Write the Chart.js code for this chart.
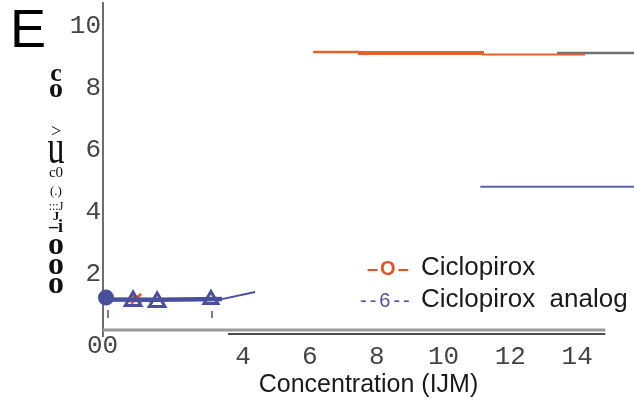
<!DOCTYPE html>
<html>
<head>
<meta charset="utf-8">
<title>Ciclopirox</title>
<script src="https://cdn.jsdelivr.net/npm/chart.js@4.4.0/dist/chart.umd.min.js"></script>
<style>
  body { margin: 0; background: #fff; }
  #wrap { position: relative; width: 634px; height: 406px; overflow: hidden; }
  #chart { position: absolute; left: 0; top: 0; }
  .t { position: absolute; white-space: pre; line-height: 1; }
  .sans { font-family: "Liberation Sans", Arial, sans-serif; color: #1a1a1a; }
  .serif { font-family: "Liberation Serif", serif; color: #111; }
  .mono { font-family: "Liberation Mono", monospace; color: #444; }
  .ylab { left: 36px; width: 40px; text-align: center; }
</style>
</head>
<body>
<div id="wrap">
  <canvas id="chart" width="634" height="406"></canvas>

  <div class="t sans" style="left:10px;top:1px;font-size:54px;color:#000;">E</div>

  <!-- y axis label, as scanned -->
  <div class="t serif ylab" style="top:60px;font-size:26px;font-weight:bold;">c</div>
  <div class="t serif ylab" style="top:73.5px;font-size:28px;font-weight:bold;">o</div>
  <div class="t serif ylab" style="top:122px;font-size:18px;">&gt;</div>
  <div class="t serif ylab" style="top:134.5px;font-size:34px;transform:scaleY(1.45);transform-origin:50% 28.5px;">u</div>
  <div class="t serif ylab" style="top:165px;font-size:15px;">c0</div>
  <div class="t serif ylab" style="top:184px;font-size:13px;">(.)</div>
  <div class="t serif ylab" style="top:200px;font-size:12px;">:::J</div>
  <div class="t serif ylab" style="top:209px;font-size:13px;font-weight:bold;">J</div>
  <div class="t serif ylab" style="top:217px;font-size:18px;font-weight:bold;">–i</div>
  <div class="t serif ylab" style="top:227px;font-size:32px;font-weight:bold;">o</div>
  <div class="t serif ylab" style="top:246.5px;font-size:32px;font-weight:bold;">o</div>
  <div class="t serif ylab" style="top:265.5px;font-size:32px;font-weight:bold;">o</div>

  <div class="t mono" style="left:87px;top:333px;font-size:26px;">00</div>

  <!-- legend -->
  <div class="t sans" style="left:367px;top:258px;font-size:20px;font-weight:bold;letter-spacing:2px;color:#e5532a;">–O–</div>
  <div class="t sans" style="left:421px;top:253px;font-size:26px;">Ciclopirox</div>
  <div class="t sans" style="left:360px;top:290px;font-size:20px;letter-spacing:3px;color:#4b52a0;">--6--</div>
  <div class="t sans" style="left:421px;top:285px;font-size:26px;">Ciclopirox  analog</div>
</div>

<script>
const yTicks = [2, 4, 6, 8, 10];
const xTicks = [4, 6, 8, 10, 12, 14];

// Ciclopirox (orange), top plateau and the low point near 0
const cicloX = [6.10, 7.44, 11.15, 14.24];
const cicloY = [9.16, 9.13, 9.08, 9.08];
const cicloLowX = [0.80];
const cicloLowY = [1.20];

// Ciclopirox analog (blue)
const analogX = [-0.10, 0.71, 1.43, 3.04];
const analogY = [1.24, 1.13, 1.10, 1.18];
const analogLineX = [-0.28, 1.43, 3.37, 4.36];
const analogLineY = [1.18, 1.17, 1.19, 1.42];
const analogErrX = [-0.04, 3.07];
const analogErrLo = [0.58, 0.58];
const analogErrHi = [0.84, 0.81];

// stray strokes in the scan
const greyTopX = [13.40, 15.70];
const greyTopY = [9.13, 9.13];
const blueMidX = [11.10, 15.70];
const blueMidY = [4.81, 4.81];

// axis rules
const axisGreyX = [-0.19, 14.84];
const axisGreyY = [0.19, 0.19];
const axisBlackX = [3.55, 14.84];
const axisBlackY = [0.065, 0.065];

const orange = '#e5612f';
const blue = '#4a4f9c';

function pts(xs, ys) {
    return xs.map((x, i) => ({ x: x, y: ys[i] }));
}

const errData = [];
analogErrX.forEach((x, i) => {
    errData.push({ x: x, y: analogErrLo[i] }, { x: x, y: analogErrHi[i] }, { x: x, y: null });
});

new Chart(document.getElementById('chart'), {
    type: 'line',
    data: {
        datasets: [
            {
                data: pts(analogX, analogY),
                showLine: false,
                pointStyle: ['circle', 'triangle', 'triangle', 'triangle'],
                pointRadius: [6.5, 9, 9, 8],
                pointBorderWidth: 3,
                pointBorderColor: blue,
                pointBackgroundColor: [blue, 'rgba(0,0,0,0)', 'rgba(0,0,0,0)', 'rgba(0,0,0,0)'],
                clip: false
            },
            {
                data: pts(analogLineX, analogLineY),
                borderColor: blue,
                pointRadius: 0,
                segment: { borderWidth: c => c.p0DataIndex < 2 ? 4.5 : 2 },
                clip: false
            },
            {
                data: errData,
                borderColor: '#7a7a8a',
                borderWidth: 2,
                pointRadius: 0,
                spanGaps: false,
                clip: false
            },
            {
                data: pts(cicloLowX, cicloLowY),
                showLine: false,
                pointStyle: 'crossRot',
                pointRadius: 7,
                pointBorderWidth: 3,
                pointBorderColor: orange,
                clip: false
            },
            {
                data: pts(cicloX, cicloY),
                borderColor: orange,
                stepped: true,
                pointRadius: 0,
                segment: { borderWidth: c => [2.5, 4, 2][c.p0DataIndex] },
                clip: false
            },
            {
                data: pts(greyTopX, greyTopY),
                borderColor: '#707070',
                borderWidth: 2.5,
                pointRadius: 0,
                clip: false
            },
            {
                data: pts(blueMidX, blueMidY),
                borderColor: '#5b5fa3',
                borderWidth: 2,
                pointRadius: 0,
                clip: false
            },
            {
                data: pts(axisGreyX, axisGreyY),
                borderColor: '#9a9a9a',
                borderWidth: 3,
                pointRadius: 0,
                clip: false
            },
            {
                data: pts(axisBlackX, axisBlackY),
                borderColor: '#111',
                borderWidth: 1.5,
                pointRadius: 0,
                clip: false
            }
        ]
    },
    options: {
        responsive: false,
        animation: false,
        devicePixelRatio: 1,
        layout: { autoPadding: false, padding: { top: 3, left: 0, right: 0, bottom: 0 } },
        plugins: { legend: { display: false }, tooltip: { enabled: false } },
        elements: { line: { tension: 0, fill: false } },
        scales: {
            x: {
                type: 'linear',
                min: -0.19,
                max: 15.7,
                grid: { display: false },
                border: { display: false },
                afterBuildTicks: s => { s.ticks = xTicks.map(v => ({ value: v })); },
                afterFit: s => { s.height = 70; s.paddingLeft = 0; s.paddingRight = 0; },
                ticks: {
                    autoSkip: false,
                    maxRotation: 0,
                    padding: -2,
                    color: '#444',
                    font: { family: 'Liberation Mono', size: 26 },
                    callback: v => String(v)
                },
                title: {
                    display: true,
                    text: 'Concentration (IJM)',
                    color: '#1a1a1a',
                    font: { family: 'Liberation Sans', size: 25 },
                    padding: { top: 0, bottom: 6 }
                }
            },
            y: {
                type: 'linear',
                min: 0,
                max: 10.74,
                grid: { display: false },
                border: { display: true, color: '#6e6e6e', width: 2 },
                afterBuildTicks: s => { s.ticks = yTicks.map(v => ({ value: v })); },
                afterFit: s => { s.width = 103; s.paddingTop = 0; s.paddingBottom = 0; },
                ticks: {
                    autoSkip: false,
                    padding: -6,
                    color: '#444',
                    font: { family: 'Liberation Mono', size: 26 },
                    callback: v => String(v)
                }
            }
        }
    }
});
</script>
</body>
</html>
